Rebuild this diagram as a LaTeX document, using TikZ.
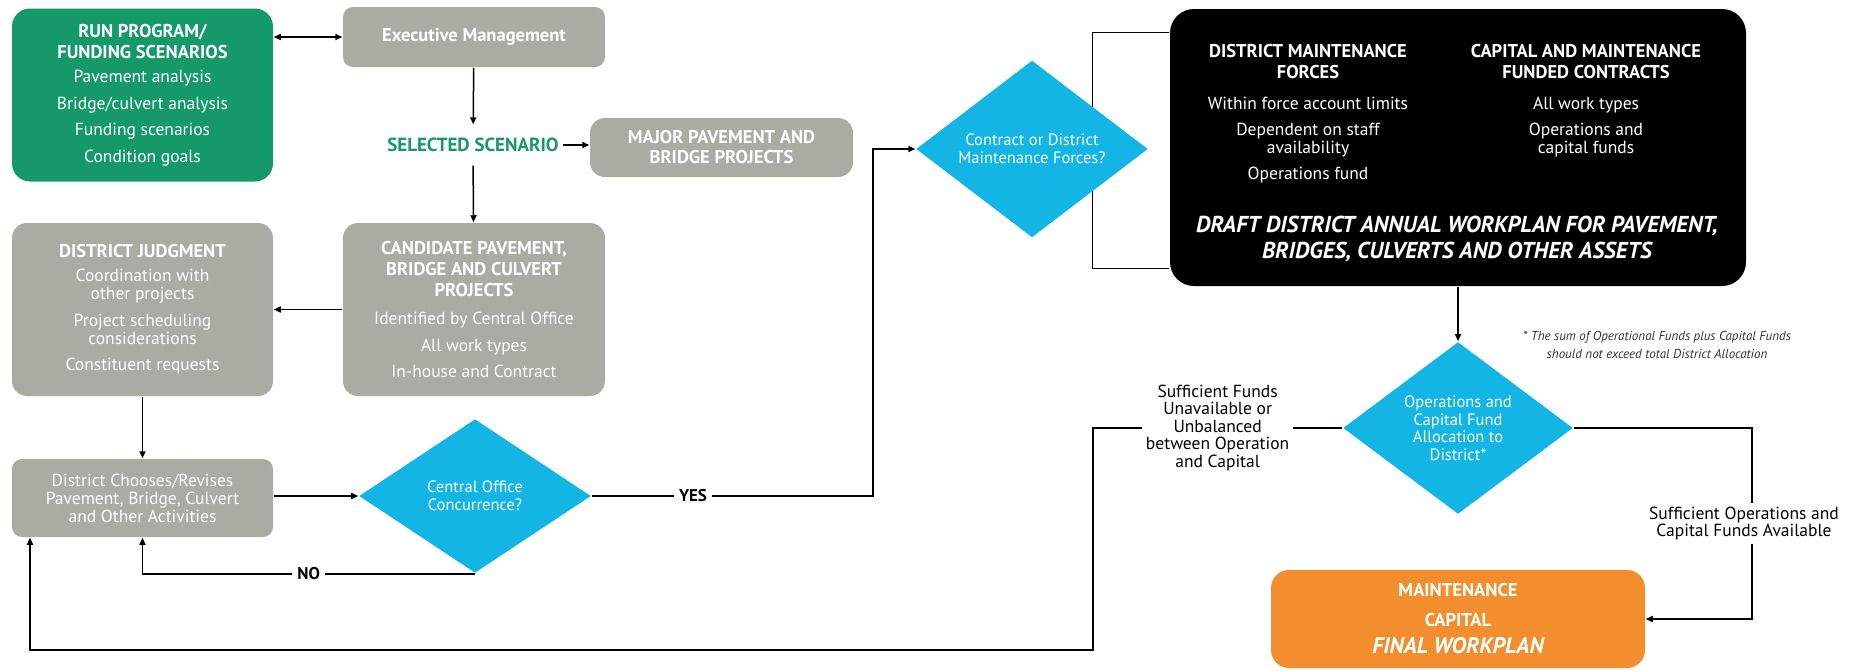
\documentclass[tikz,border=0pt]{standalone}
\usepackage{fontspec}
\setmainfont{PT Sans}
\usepackage{xcolor}
\usepackage{tikz}
\usetikzlibrary{arrows.meta, shapes.geometric, backgrounds}
\definecolor{rungreen}{RGB}{21,153,105}
\definecolor{boxgray}{RGB}{170,171,162}
\definecolor{decblue}{RGB}{18,181,228}
\definecolor{finalorange}{RGB}{243,142,46}
\newcommand*\ttl[1]{{\fontsize{18.5}{18}\selectfont\bfseries #1}}

\begin{document}
\begin{tikzpicture}[x=1pt, y=-1pt, font=\fontsize{17.5}{18}\selectfont,
    >={Triangle[length=7pt, width=6pt]}, line width=1.5pt,
    box/.style={rounded corners=15pt, fill=boxgray, text=white, align=center, inner sep=0pt},
    decision/.style={diamond, fill=decblue, text=white, align=center, inner sep=0pt,
      minimum width=232pt, minimum height=154pt, font=\fontsize{16.5}{18}\selectfont},
    lbl/.style={fill=white, font=\fontsize{17}{18}\selectfont\bfseries, inner sep=5pt},
    note/.style={fill=white, align=center, inner sep=4pt, font=\fontsize{17.5}{17.5}\selectfont}]
  \useasboundingbox (0,0) rectangle (1853,670);

  \node[box, fill=rungreen, rounded corners=18pt, minimum width=261pt, minimum height=173pt] (run)
    at (142.5,95) {\ttl{RUN PROGRAM/}\\[3pt]\ttl{FUNDING SCENARIOS}\\[6pt]Pavement analysis\\[8.5pt]
    Bridge/culvert analysis\\[8.5pt]Funding scenarios\\[8.5pt]Condition goals};
  \node[box, rounded corners=10pt, minimum width=262pt, minimum height=60pt] (exec)
    at (474,37) {\ttl{Executive Management}};
  \node[text=rungreen, font=\fontsize{19}{18}\selectfont\bfseries, inner xsep=4pt, inner ysep=13pt] (sel)
    at (473,145) {SELECTED SCENARIO};
  \node[box, minimum width=263pt, minimum height=59pt] (major)
    at (721.5,147.5) {\ttl{MAJOR PAVEMENT AND}\\[2pt]\ttl{BRIDGE PROJECTS}};
  \node[box, minimum width=262pt, minimum height=173pt] (cand) at (474,309.5)
    {\ttl{CANDIDATE PAVEMENT,}\\[3pt]\ttl{BRIDGE AND CULVERT}\\[3pt]\ttl{PROJECTS}\\[10pt]
    Identified by Central Office\\[8.5pt]All work types\\[8.5pt]In-house and Contract};
  \node[box, minimum width=261pt, minimum height=173pt] (judg) at (142.5,309.5)
    {\ttl{DISTRICT JUDGMENT}\\[6pt]Coordination with\\other projects\\[9pt]Project scheduling\\
    considerations\\[8pt]Constituent requests};
  \node[box, rounded corners=10pt, minimum width=261pt, minimum height=78pt] (choose) at (142.5,498)
    {District Chooses/Revises\\Pavement, Bridge, Culvert\\and Other Activities};
  \node[decision] (conc) at (475,496) {Central Office\\Concurrence?};
  \node[decision] (contr) at (1032,149) {Contract or District\\Maintenance Forces?};
  \node[fill=black, rounded corners=24pt, minimum width=576pt, minimum height=277pt, inner sep=0pt] (draft)
    at (1458,147.5) {};
  \node[text=white, align=center] (dmf) at (1308,114)
    {\ttl{DISTRICT MAINTENANCE}\\[3pt]\ttl{FORCES}\\[13pt]Within force account limits\\[8pt]
    Dependent on staff\\availability\\[8pt]Operations fund};
  \node[text=white, align=center] (cmf) at (1586,101)
    {\ttl{CAPITAL AND MAINTENANCE}\\[3pt]\ttl{FUNDED CONTRACTS}\\[13pt]All work types\\[8pt]
    Operations and\\capital funds};
  \node[text=white, align=center, font=\fontsize{23}{26}\selectfont\bfseries\itshape] (dtitle) at (1457,239)
    {DRAFT DISTRICT ANNUAL WORKPLAN FOR PAVEMENT,\\BRIDGES, CULVERTS AND OTHER ASSETS};
  \node[decision, minimum width=230pt, font=\fontsize{16.5}{17.5}\selectfont] (alloc) at (1458,428)
    {Operations and\\Capital Fund\\Allocation to\\District*};
  \node[font=\fontsize{13}{18}\selectfont\itshape, text=black!80, align=center] (fnote) at (1657,345)
    {* The sum of Operational Funds plus Capital Funds\\should not exceed total District Allocation};
  \node[box, fill=finalorange, rounded corners=18pt, minimum width=374pt, minimum height=98pt] (final)
    at (1458,619) {\ttl{MAINTENANCE}\\[12pt]\ttl{CAPITAL}\\[9pt]
    {\fontsize{22.5}{22}\selectfont\bfseries\itshape FINAL WORKPLAN}};

  \coordinate (yesturn) at (873,496);
  \coordinate (brt) at (1092,32);
  \coordinate (brb) at (1092,268);
  \coordinate (backr) at (1093,650);
  \coordinate (backl) at (30,650);
  \coordinate (okturn) at (1752,428);

  \begin{scope}[on background layer]
    \draw (brt -| draft.west) -- (brt) -- (brb) -- (brb -| draft.west);
  \end{scope}

  \draw[<->] (run.east |- exec) -- (exec);
  \draw[->] (exec) -- (sel);
  \draw[->] (sel) -- (cand);
  \draw[->] (sel.east) -- (sel.east -| major.west);
  \draw[->] (cand) -- (judg);
  \draw[->] (judg) -- (choose);
  \draw[->] (choose.east |- conc) -- (conc);
  \draw[->] (conc.south) -- node[lbl]{NO} (conc.south -| choose) -- (choose.south);
  \draw[->] (conc.east) -- node[lbl, pos=0.36]{YES} (yesturn) |- (contr.west);
  \draw[->] (draft) -- (alloc);
  \draw[->] (alloc.west) -- node[note]{Sufficient Funds\\Unavailable or\\Unbalanced\\between Operation\\and Capital}
    (alloc.west -| backr) -- (backr) -- (backl) -- (backl |- choose.south);
  \draw[->] (alloc.east) -- (okturn) -- node[note, xshift=-8pt]{Sufficient Operations and\\Capital Funds Available}
    (okturn |- final.east) -- (final.east);
\end{tikzpicture}
\end{document}
